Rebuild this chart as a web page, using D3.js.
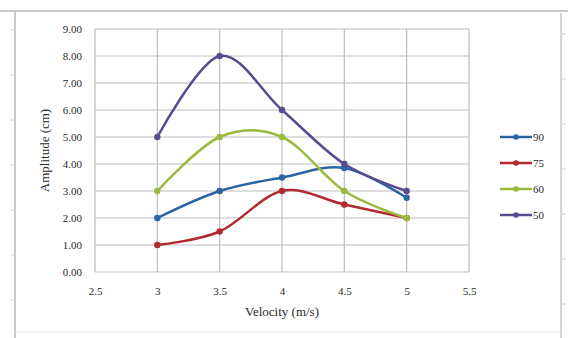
<!DOCTYPE html>
<html>
<head>
<meta charset="utf-8">
<script src="https://cdn.jsdelivr.net/npm/d3@7"></script>
<style>
  body { margin: 0; background: #fff; }
  svg { display: block; font-family: "Liberation Serif", "DejaVu Serif", serif; }
</style>
</head>
<body>
<div id="chart"></div>
<script>
const velocity = [3, 3.5, 4, 4.5, 5];
const seriesNames = ["90", "75", "60", "50"];
const amp90 = [2.0, 3.0, 3.5, 3.85, 2.75];
const amp75 = [1.0, 1.5, 3.0, 2.5, 2.0];
const amp60 = [3.0, 5.0, 5.0, 3.0, 2.0];
const amp50 = [5.0, 8.0, 6.0, 4.0, 3.0];
const xTicks = [2.5, 3, 3.5, 4, 4.5, 5, 5.5];
const yTicks = [0, 1, 2, 3, 4, 5, 6, 7, 8, 9];
const colors = ["#2a64a5", "#b22a30", "#9aba3c", "#5a4a90"];

const series = [amp90, amp75, amp60, amp50].map((vals, i) => ({
  name: seriesNames[i],
  color: colors[i],
  points: vals.map((v, j) => ({ x: velocity[j], y: v }))
}));

const width = 568, height = 338;
const margin = { left: 95, right: 99, top: 29, bottom: 66 };

const svg = d3.select('#chart').append('svg').attr('width', width).attr('height', height);

// screenshot-like frame
const frame = svg.append('g').attr('stroke', '#c8c8c8').attr('fill', 'none');
frame.append('line').attr('x1', 0).attr('x2', width).attr('y1', 11).attr('y2', 11).attr('stroke-width', 2);
frame.append('line').attr('x1', 15).attr('x2', 15).attr('y1', 11).attr('y2', height).attr('stroke-width', 2);
frame.append('line').attr('x1', 561).attr('x2', 561).attr('y1', 13).attr('y2', height).attr('stroke-width', 1.5);
frame.append('line').attr('x1', 15).attr('x2', 561).attr('y1', 332).attr('y2', 332).attr('stroke', '#e4e4e4');
d3.range(30, 338, 45).forEach(y => {
  frame.append('line').attr('x1', 11).attr('x2', 15).attr('y1', y).attr('y2', y).attr('stroke', '#d0d0d0');
  frame.append('line').attr('x1', 561).attr('x2', 566).attr('y1', y + 4).attr('y2', y + 4).attr('stroke', '#d0d0d0');
});

const iw = width - margin.left - margin.right;
const ih = height - margin.top - margin.bottom;
const x = d3.scaleLinear().domain([2.5, 5.5]).range([0, iw]);
const y = d3.scaleLinear().domain([0, 9]).range([ih, 0]);

const g = svg.append('g').attr('transform', `translate(${margin.left},${margin.top})`);

// grid
g.append('g').selectAll('line').data(yTicks).join('line')
  .attr('x1', 0).attr('x2', iw).attr('y1', d => y(d)).attr('y2', d => y(d))
  .attr('stroke', '#bdbdbd').attr('stroke-width', 1.2);
g.append('g').selectAll('line').data(xTicks).join('line')
  .attr('x1', d => x(d)).attr('x2', d => x(d)).attr('y1', 0).attr('y2', ih)
  .attr('stroke', '#bdbdbd').attr('stroke-width', 1.2);

// axes labels
const yAxis = g.append('g').call(d3.axisLeft(y).tickValues(yTicks).tickFormat(d3.format('.2f')).tickSize(0).tickPadding(13));
yAxis.select('.domain').remove();
yAxis.selectAll('text').attr('font-size', 11).attr('fill', '#2a2a2a').attr('font-family', 'Liberation Serif, serif');

const xAxis = g.append('g').attr('transform', `translate(0,${ih})`)
  .call(d3.axisBottom(x).tickValues(xTicks).tickFormat(d => String(d)).tickSize(0).tickPadding(15));
xAxis.select('.domain').remove();
xAxis.selectAll('text').attr('font-size', 11).attr('fill', '#2a2a2a').attr('font-family', 'Liberation Serif, serif');

svg.append('text')
  .attr('transform', `translate(49,${margin.top + ih / 2}) rotate(-90)`)
  .attr('text-anchor', 'middle').attr('font-size', 13).attr('fill', '#2a2a2a')
  .text('Amplitude (cm)');
svg.append('text')
  .attr('x', 282).attr('y', 316)
  .attr('text-anchor', 'middle').attr('font-size', 13).attr('fill', '#2a2a2a')
  .text('Velocity (m/s)');

// lines
const line = d3.line().x(d => x(d.x)).y(d => y(d.y)).curve(d3.curveCatmullRom.alpha(0));
series.forEach(s => {
  g.append('path').datum(s.points).attr('d', line)
    .attr('fill', 'none').attr('stroke', s.color).attr('stroke-width', 2.5);
  g.selectAll(null).data(s.points).join('circle')
    .attr('cx', d => x(d.x)).attr('cy', d => y(d.y)).attr('r', 3.2)
    .attr('fill', s.color);
});

// legend
const legend = svg.append('g').attr('transform', 'translate(500,137)');
series.forEach((s, i) => {
  const row = legend.append('g').attr('transform', `translate(0,${i * 26})`);
  row.append('line').attr('x1', 0).attr('x2', 32).attr('y1', 0).attr('y2', 0)
    .attr('stroke', s.color).attr('stroke-width', 2.5);
  row.append('circle').attr('cx', 16).attr('cy', 0).attr('r', 2.8).attr('fill', s.color);
  row.append('text').attr('x', 33).attr('y', 4).attr('font-size', 11).attr('fill', '#2a2a2a')
    .text(s.name);
});
</script>
</body>
</html>
